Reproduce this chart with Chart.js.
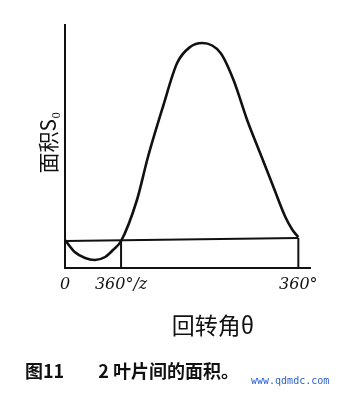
<!DOCTYPE html>
<html>
<head>
<meta charset="utf-8">
<script src="https://cdn.jsdelivr.net/npm/chart.js@4/dist/chart.umd.min.js"></script>
<style>
  html, body { margin: 0; padding: 0; background: #fff; }
  #wrap { position: relative; width: 343px; height: 397px; }
  #chart { position: absolute; left: 0; top: 0; }
  .caption { position: absolute; left: 25px; top: 357px; font-family: "Noto Sans CJK SC", sans-serif; font-weight: bold; font-size: 18px; color: #111; white-space: nowrap; }
  .caption .num { margin-left: 34px; }
  .mark { position: absolute; left: 251px; top: 375px; font-family: "DejaVu Sans Mono", monospace; font-size: 10px; color: #2a5fd0; }
</style>
</head>
<body>
<div id="wrap">
  <canvas id="chart" width="343" height="397"></canvas>
  <div class="caption">图11<span class="num">2 叶片间的面积。</span></div>
  <div class="mark">www.qdmdc.com</div>
</div>
<script>
// rotation angle (deg) and area between blades
const angles = [0, 15, 31, 46, 62, 74, 86.5, 111, 128, 151, 173, 193, 212, 240, 260, 281, 301, 321, 340, 351, 360];
const areas  = [28, 16, 10, 8, 11, 18, 27, 68, 111, 161, 205, 221, 225, 215, 188, 148, 115, 82, 51, 38, 31];

// reference level and the two marker lines
const refAngles = [0, 360];
const refAreas = [27, 30];
const markAngles = [86.5, 360];
const markTops = [27, 30];

const tickValues = [0, 86.5, 360];
const tickLabels = ['0', '360°/z', '360°'];

const yTitle = '面积S₀';
const xTitle = '回转角θ';

const ink = '#111';

const curve = angles.map((a, i) => ({ x: a, y: areas[i] }));
const refLine = refAngles.map((a, i) => ({ x: a, y: refAreas[i] }));
const marks = markAngles.map((a, i) => [{ x: a, y: 0 }, { x: a, y: markTops[i] }]);

const lineStyle = { borderColor: ink, pointRadius: 0, fill: false };

const titlePlugin = {
  id: 'handTitles',
  afterDraw(chart) {
    const { ctx, chartArea } = chart;
    ctx.save();
    ctx.fillStyle = ink;
    ctx.textAlign = 'center';
    ctx.textBaseline = 'middle';
    ctx.font = '21px "Noto Sans CJK SC"';
    ctx.translate(48, (chartArea.top + chartArea.bottom) / 2 - 4);
    ctx.rotate(-Math.PI / 2);
    ctx.fillText(yTitle, 0, 0);
    ctx.restore();

    ctx.save();
    ctx.fillStyle = ink;
    ctx.textAlign = 'center';
    ctx.textBaseline = 'middle';
    ctx.font = '23px "Noto Sans CJK SC"';
    ctx.fillText(xTitle, 213, 325);
    ctx.restore();
  }
};

new Chart(document.getElementById('chart'), {
  type: 'line',
  data: {
    datasets: [
      { data: curve, ...lineStyle, borderWidth: 2.6, cubicInterpolationMode: 'monotone' },
      { data: refLine, ...lineStyle, borderWidth: 2 },
      { data: marks[0], ...lineStyle, borderWidth: 2 },
      { data: marks[1], ...lineStyle, borderWidth: 2 }
    ]
  },
  options: {
    responsive: false,
    animation: false,
    layout: { padding: { top: 25, right: 33, left: 0, bottom: 57 } },
    plugins: { legend: { display: false }, tooltip: { enabled: false } },
    scales: {
      x: {
        type: 'linear',
        min: 0,
        max: 378,
        afterBuildTicks: (s) => { s.ticks = tickValues.map(v => ({ value: v })); },
        afterFit: (s) => { s.height = 72; },
        grid: { display: false, drawTicks: false },
        border: { display: true, color: ink, width: 2 },
        ticks: {
          padding: 7,
          maxRotation: 0,
          autoSkip: false,
          color: ink,
          font: { family: 'DejaVu Serif', style: 'italic', size: 16 },
          callback: (v) => tickLabels[tickValues.indexOf(v)]
        }
      },
      y: {
        min: 0,
        max: 243,
        afterFit: (s) => { s.width = 65; },
        grid: { display: false, drawTicks: false },
        border: { display: true, color: ink, width: 2 },
        ticks: { display: false }
      }
    }
  },
  plugins: [titlePlugin]
});
</script>
</body>
</html>
